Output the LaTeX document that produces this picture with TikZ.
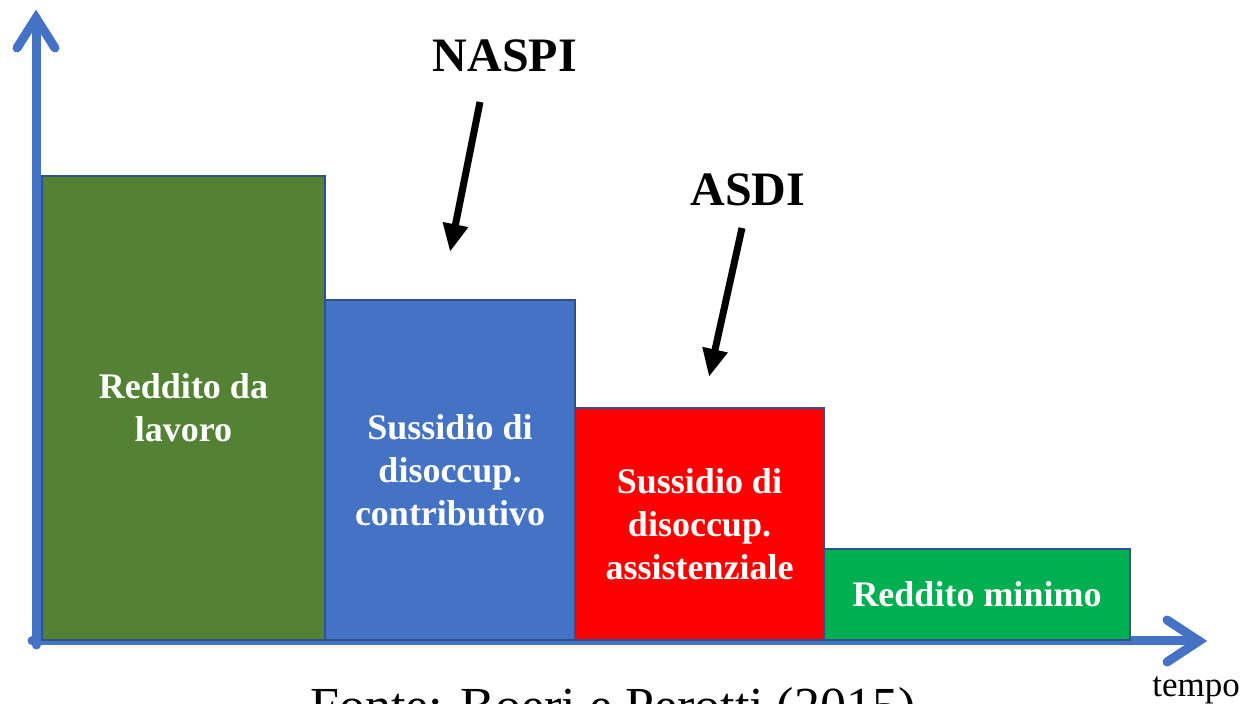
\documentclass[tikz,border=0pt]{standalone}
\usepackage{fontspec}
\setmainfont{Liberation Serif}
\usetikzlibrary{arrows.meta,positioning}
\definecolor{lavorogreen}{HTML}{548235}
\definecolor{contribblue}{HTML}{4472C4}
\definecolor{assistred}{HTML}{FF0000}
\definecolor{minimogreen}{HTML}{00B050}
\definecolor{barborder}{HTML}{2F528F}
\definecolor{axisblue}{HTML}{4472C4}

\begin{document}
\begin{tikzpicture}[x=0.5pt,y=-0.5pt,
  bar/.style={draw=barborder,line width=1pt,anchor=south west,inner sep=0pt,outer sep=0pt,text=white,align=center,font=\bfseries\fontsize{18}{21.5}\selectfont},
  axis/.style={draw=axisblue,line width=4.5pt,line cap=round,line join=miter},
  pointer/.style={-{Triangle[length=14pt,width=12pt]},line width=3.5pt},
  schemename/.style={font=\bfseries\fontsize{24}{28}\selectfont,inner sep=0pt}]
\useasboundingbox (0,0) rectangle (1249,704);
\coordinate (ytip) at (36,18);
\coordinate (xtip) at (1199,641);
\draw[axis] (36,645) -- (ytip);
\draw[axis] (17,48) -- (ytip) -- (55,48);
\draw[axis] (32,641) -- (xtip);
\draw[axis] (1167,620) -- (xtip) -- (1167,662);
\node[bar,fill=lavorogreen,minimum width=141.5pt,minimum height=232pt] (lavoro) at (42,640) {Reddito da\\lavoro};
\node[bar,fill=contribblue,minimum width=125pt,minimum height=170pt] (contrib) at (lavoro.south east) {Sussidio di\\disoccup.\\contributivo};
\node[bar,fill=assistred,minimum width=124.5pt,minimum height=116pt] (assist) at (contrib.south east) {Sussidio di\\disoccup.\\assistenziale};
\node[bar,fill=minimogreen,minimum width=153pt,minimum height=45.5pt] (minimo) at (assist.south east) {Reddito minimo};
\node[schemename,anchor=base] (naspi) at (505,72) {NASPI};
\node[schemename,anchor=base] (asdi) at (748,206) {ASDI};
\coordinate (naspistart) at (480,102);
\coordinate (naspitip) at (450,252);
\coordinate (asdistart) at (742,228);
\coordinate (asditip) at (709,377);
\draw[pointer] (naspistart) -- (naspitip);
\draw[pointer] (asdistart) -- (asditip);
\node[anchor=base west,inner sep=0pt,font=\fontsize{17.5}{20}\selectfont] (tempo) at (1152,697) {tempo};
\node[anchor=base west,inner sep=0pt,font=\fontsize{26}{30}\selectfont] (fonte) at (310,724) {Fonte: Boeri e Perotti (2015)};
\end{tikzpicture}
\end{document}
